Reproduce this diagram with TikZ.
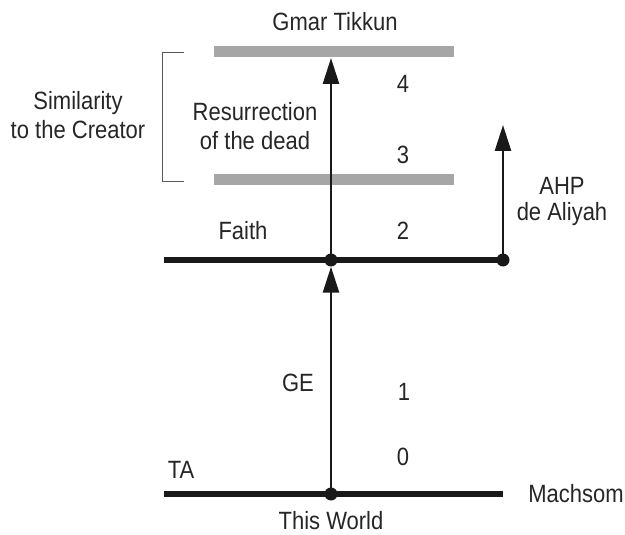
\documentclass[tikz,border=0pt]{standalone}
\usepackage{fontspec}
\setmainfont[FakeStretch=0.88]{Liberation Sans}
\usetikzlibrary{arrows.meta}
\begin{document}
\begin{tikzpicture}[x=1pt,y=-1pt,
  lbl/.style={font=\fontsize{25}{29}\selectfont, text=black!85, inner sep=0pt, align=center},
  thick line/.style={line width=6.5pt, black!90},
  gray bar/.style={line width=11pt, black!35},
  arr/.style={line width=2.6pt, black!90, -{Triangle[width=16pt,length=26pt]}},
  dot/.style={circle, fill=black!90, minimum size=13pt, inner sep=0pt},
  brk/.style={line width=0.9pt, black!65}]
\useasboundingbox (0,0) rectangle (625,535);
% gray bars
\coordinate (gt1) at (214,52);
\coordinate (gt2) at (454,52);
\coordinate (gb1) at (214,180);
\coordinate (gb2) at (454,180);
\draw[gray bar] (gt1) -- (gt2);
\draw[gray bar] (gb1) -- (gb2);
% bracket
\coordinate (b1) at (184,52);
\coordinate (b2) at (162,52);
\coordinate (b3) at (162,181);
\coordinate (b4) at (184,181);
\draw[brk] (b1) -- (b2) -- (b3) -- (b4);
% lines
\coordinate (f1) at (164,260);
\coordinate (f2) at (503,260);
\coordinate (w1) at (164,494);
\coordinate (w2) at (503,494);
\draw[thick line] (f1) -- (f2);
\draw[thick line] (w1) -- (w2);
% dots
\node[dot] (fd) at (331,260) {};
\node[dot] (rd) at (503,260) {};
\node[dot] (wd) at (331,494) {};
% arrows
\coordinate (topt) at (331,58);
\coordinate (rt) at (503,125);
\draw[arr] (fd.center) -- (topt);
\draw[arr] (rd.center) -- (rt);
\draw[arr] (wd.center) -- (fd.south);
% labels
\node[lbl] (gmar) at (335,22) {Gmar Tikkun};
\node[lbl] (n4) at (403,84) {4};
\node[lbl] (n3) at (403,155) {3};
\node[lbl] (res) at (255,126) {Resurrection\\of the dead};
\node[lbl] (sim) at (78,115) {Similarity\\to the Creator};
\node[lbl] (faith) at (243,231) {Faith};
\node[lbl] (n2) at (403,231) {2};
\node[lbl] (ahp) at (562,201) {AHP\\[-3pt]de Aliyah};
\node[lbl] (ge) at (298,383) {GE};
\node[lbl] (n1) at (404,392) {1};
\node[lbl] (n0) at (403,457) {0};
\node[lbl] (ta) at (181,470) {TA};
\node[lbl] (mach) at (576,494) {Machsom};
\node[lbl] (tw) at (331,521) {This World};
\end{tikzpicture}
\end{document}
